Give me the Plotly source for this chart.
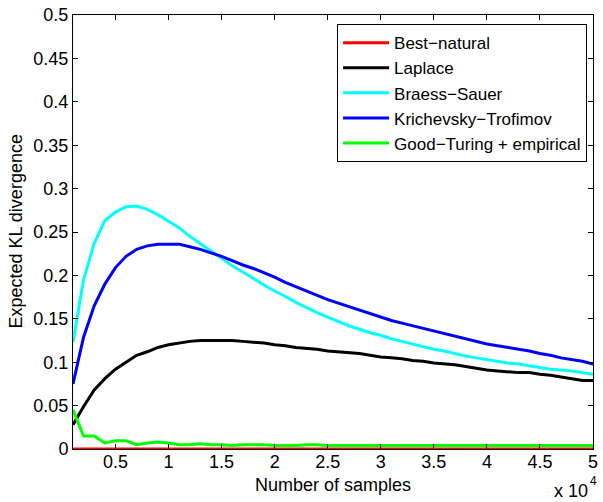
import plotly.graph_objects as go

samples = [1000, 2000, 3000, 4000, 5000, 6000, 7000, 8000, 9000, 10000,
           11000, 12000, 13000, 14000, 15000, 16000, 17000, 18000, 19000, 20000,
           21000, 22000, 23000, 24000, 25000, 26000, 27000, 28000, 29000, 30000,
           31000, 32000, 33000, 34000, 35000, 36000, 37000, 38000, 39000, 40000,
           41000, 42000, 43000, 44000, 45000, 46000, 47000, 48000, 49000, 50000]

best_natural = [0.0, 0.0, 0.0, 0.0, 0.0, 0.0, 0.0, 0.0, 0.0, 0.0,
                0.0, 0.0, 0.0, 0.0, 0.0, 0.0, 0.0, 0.0, 0.0, 0.0,
                0.0, 0.0, 0.0, 0.0, 0.0, 0.0, 0.0, 0.0, 0.0, 0.0,
                0.0, 0.0, 0.0, 0.0, 0.0, 0.0, 0.0, 0.0, 0.0, 0.0,
                0.0, 0.0, 0.0, 0.0, 0.0, 0.0, 0.0, 0.0, 0.0, 0.0]

laplace = [0.028, 0.049, 0.068, 0.081, 0.092, 0.100, 0.108, 0.112, 0.117, 0.120,
           0.122, 0.124, 0.125, 0.125, 0.125, 0.125, 0.124, 0.123, 0.122, 0.120,
           0.119, 0.117, 0.116, 0.115, 0.113, 0.112, 0.111, 0.110, 0.108, 0.106,
           0.105, 0.104, 0.102, 0.101, 0.099, 0.098, 0.097, 0.095, 0.093, 0.091,
           0.090, 0.089, 0.088, 0.088, 0.086, 0.085, 0.083, 0.081, 0.079, 0.079]

braess_sauer = [0.123, 0.195, 0.237, 0.263, 0.273, 0.279, 0.280, 0.276, 0.270, 0.262,
                0.255, 0.245, 0.236, 0.228, 0.220, 0.211, 0.204, 0.196, 0.189, 0.182,
                0.176, 0.169, 0.163, 0.157, 0.152, 0.147, 0.142, 0.138, 0.134, 0.131,
                0.127, 0.124, 0.121, 0.118, 0.115, 0.113, 0.110, 0.107, 0.105, 0.103,
                0.101, 0.099, 0.098, 0.096, 0.094, 0.092, 0.091, 0.090, 0.088, 0.086]

krichevsky_trofimov = [0.075, 0.129, 0.165, 0.190, 0.209, 0.222, 0.230, 0.234, 0.236, 0.236,
                       0.236, 0.233, 0.230, 0.226, 0.222, 0.217, 0.212, 0.208, 0.203, 0.198,
                       0.192, 0.187, 0.182, 0.177, 0.172, 0.168, 0.164, 0.160, 0.156, 0.152,
                       0.148, 0.145, 0.142, 0.139, 0.136, 0.133, 0.130, 0.127, 0.124, 0.121,
                       0.119, 0.117, 0.115, 0.113, 0.110, 0.108, 0.105, 0.103, 0.101, 0.098]

good_turing = [0.045, 0.015, 0.015, 0.007, 0.0095, 0.0095, 0.005, 0.007, 0.008, 0.007,
               0.005, 0.005, 0.006, 0.005, 0.005, 0.004, 0.005, 0.005, 0.005, 0.004,
               0.004, 0.004, 0.005, 0.005, 0.004, 0.004, 0.004, 0.004, 0.004, 0.004,
               0.004, 0.004, 0.004, 0.004, 0.004, 0.004, 0.004, 0.004, 0.004, 0.004,
               0.004, 0.004, 0.004, 0.004, 0.004, 0.004, 0.004, 0.004, 0.004, 0.004]

series_names = ["Best\u2212natural", "Laplace", "Braess\u2212Sauer",
                "Krichevsky\u2212Trofimov", "Good\u2212Turing + empirical"]
series_values = [best_natural, laplace, braess_sauer, krichevsky_trofimov, good_turing]
series_colors = ["#FF0000", "#000000", "#00FFFF", "#0000FF", "#00FF00"]

x_tickvals = [5000, 10000, 15000, 20000, 25000, 30000, 35000, 40000, 45000, 50000]
x_ticktext = ["0.5", "1", "1.5", "2", "2.5", "3", "3.5", "4", "4.5", "5"]
y_tickvals = [0, 0.05, 0.1, 0.15, 0.2, 0.25, 0.3, 0.35, 0.4, 0.45, 0.5]
y_ticktext = ["0", "0.05", "0.1", "0.15", "0.2", "0.25", "0.3", "0.35", "0.4", "0.45", "0.5"]

FONT = "Liberation Sans, Arial, Helvetica, sans-serif"
FS = 18

fig = go.Figure()
for name, vals, col in zip(series_names, series_values, series_colors):
    fig.add_trace(go.Scatter(x=samples, y=vals, mode="lines", name=name,
                             line=dict(color=col, width=3)))

axis_common = dict(showline=True, linecolor="black", linewidth=1, mirror="ticks",
                   ticks="inside", ticklen=5, tickcolor="black", tickwidth=1,
                   showgrid=False, zeroline=False, ticklabeloverflow="allow",
                   tickfont=dict(family=FONT, size=FS, color="black"))

fig.update_layout(
    width=603, height=502,
    margin=dict(l=73, r=5, t=13, b=53),
    paper_bgcolor="white", plot_bgcolor="white",
    font=dict(family=FONT, size=FS, color="black"),
    xaxis=dict(range=[1000, 50000], tickvals=x_tickvals, ticktext=x_ticktext,
               ticklabelstandoff=-4, **axis_common),
    yaxis=dict(range=[0, 0.5], tickvals=y_tickvals, ticktext=y_ticktext,
               **axis_common),
    legend=dict(x=0.9886, y=0.979, xanchor="right", yanchor="top",
                bgcolor="white", bordercolor="black", borderwidth=1,
                itemwidth=46,
                font=dict(family=FONT, size=17, color="black")),
    showlegend=True,
)

# axis titles
fig.add_annotation(xref="paper", yref="paper", x=0.5, y=-0.0826,
                   xanchor="center", yanchor="middle", showarrow=False,
                   text="Number of samples", font=dict(family=FONT, size=FS, color="black"))
fig.add_annotation(xref="paper", yref="paper", x=-0.1105, y=0.5,
                   xanchor="center", yanchor="middle", showarrow=False, textangle=-90,
                   text="Expected KL divergence", font=dict(family=FONT, size=FS, color="black"))
# exponent note
fig.add_annotation(xref="paper", yref="paper", x=0.9924, y=-0.0963,
                   xanchor="right", yanchor="middle", showarrow=False, borderpad=0,
                   text="x 10", font=dict(family=FONT, size=FS, color="black"))
fig.add_annotation(xref="paper", yref="paper", x=0.9924, y=-0.0745,
                   xanchor="left", yanchor="middle", showarrow=False, borderpad=0,
                   text="4", font=dict(family=FONT, size=12, color="black"))

fig.write_html("out.html", config={"displayModeBar": False},
               post_script="document.body.style.margin='0';document.body.style.padding='0';")
